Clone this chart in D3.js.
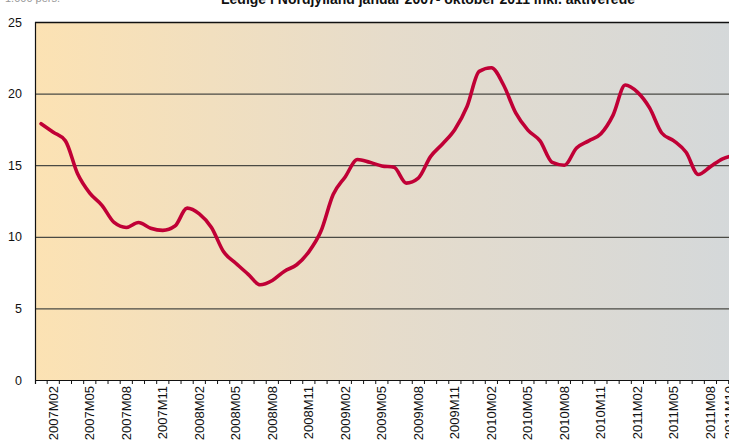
<!DOCTYPE html>
<meta charset="utf-8">
<script src="https://d3js.org/d3.v7.min.js"></script>
<style>
  body { margin: 0; background: #fff; }
  text { font-family: "Liberation Sans", Arial, sans-serif; }
</style>
<div id="chart"></div>
<script>
  // months jan 2007 - okt 2011
  var years = ["2007", "2008", "2009", "2010", "2011"];
  var months = [];
  years.forEach(function (y) {
    for (var m = 1; m <= 12; m++) {
      if (y == "2011" && m > 10) break;
      months.push(y + "M" + (m < 10 ? "0" + m : m));
    }
  });

  // ledige inkl. aktiverede
  var values = [
    17.9, 17.3, 16.7, 14.4, 13.05, 12.2, 11.0, 10.65, 11.0, 10.6, 10.45, 10.75,
    12.0, 11.6, 10.65, 8.95, 8.15, 7.4, 6.65, 6.95, 7.6, 8.05, 8.95, 10.4,
    12.95, 14.2, 15.4, 15.2, 14.95, 14.85, 13.75, 14.1, 15.6, 16.5, 17.5, 19.1,
    21.55, 21.8, 20.6, 18.65, 17.45, 16.7, 15.2, 15.0, 16.2, 16.7, 17.2, 18.5,
    20.6, 20.1, 19.0, 17.25, 16.7, 15.9, 14.35, 14.9, 15.45, 15.7
  ];
  var yTicks = [0, 5, 10, 15, 20, 25];

  var margin = { top: 22, left: 35 },
      step = 12.17,
      width = step * months.length,
      height = 358;

  var svg = d3.select("#chart")
    .append("svg")
    .attr("width", 729)
    .attr("height", 444);

  var grad = svg.append("defs").append("linearGradient")
    .attr("id", "bg")
    .attr("x1", "0%").attr("x2", "100%")
    .attr("y1", "0%").attr("y2", "0%");
  grad.append("stop").attr("offset", "0%").attr("stop-color", "#fce2b3");
  grad.append("stop").attr("offset", "50%").attr("stop-color", "#e6dccb");
  grad.append("stop").attr("offset", "100%").attr("stop-color", "#d4d8da");

  var g = svg.append("g")
    .attr("transform", "translate(" + margin.left + "," + margin.top + ")");

  var x = d3.scaleBand()
    .domain(months)
    .range([0, width]);

  var y = d3.scaleLinear()
    .domain([0, 25])
    .range([height, 0]);

  g.append("rect")
    .attr("width", width)
    .attr("height", height)
    .attr("fill", "url(#bg)");

  // gridlines
  g.selectAll(".grid")
    .data(yTicks)
    .enter()
    .append("line")
    .attr("x1", 0)
    .attr("x2", width)
    .attr("y1", function (d) { return y(d) + 0.5; })
    .attr("y2", function (d) { return y(d) + 0.5; })
    .attr("stroke", function (d) { return d == 25 || d == 0 ? "#111" : "#4a4a44"; })
    .attr("stroke-width", function (d) { return d == 25 ? 1.6 : 1.2; });

  g.append("line")
    .attr("x1", 0.5).attr("x2", 0.5)
    .attr("y1", 0).attr("y2", height + 4)
    .attr("stroke", "#111")
    .attr("stroke-width", 1.2);

  // y labels
  g.selectAll(".ylab")
    .data(yTicks)
    .enter()
    .append("text")
    .attr("x", -13)
    .attr("y", function (d) { return y(d) + 4.5; })
    .attr("text-anchor", "end")
    .attr("font-size", "12.5px")
    .attr("fill", "#111")
    .text(function (d) { return d; });

  // month ticks
  g.selectAll(".tick")
    .data(months)
    .enter()
    .append("line")
    .attr("x1", function (d) { return x(d) + step; })
    .attr("x2", function (d) { return x(d) + step; })
    .attr("y1", height)
    .attr("y2", height + 4)
    .attr("stroke", "#111")
    .attr("stroke-width", 1);

  // x labels every third month, plus the last one
  var labelled = months.filter(function (d, i) { return (i - 1) % 3 == 0 || i == months.length - 1; });
  g.selectAll(".xlab")
    .data(labelled)
    .enter()
    .append("text")
    .attr("transform", function (d) {
      var px = Math.min(x(d) + step / 2 + 4.5, 729 - margin.left + 5);
      return "translate(" + px + "," + (height + 6) + ") rotate(-90)";
    })
    .attr("text-anchor", "end")
    .attr("font-size", "13px")
    .attr("fill", "#111")
    .text(function (d) { return d; });

  // the line
  var data = months.map(function (m, i) { return { m: m, v: values[i] }; });
  g.append("path")
    .datum(data)
    .attr("fill", "none")
    .attr("stroke", "#c00036")
    .attr("stroke-width", 3.6)
    .attr("stroke-linejoin", "round")
    .attr("stroke-linecap", "round")
    .attr("d", d3.line()
      .curve(d3.curveMonotoneX)
      .x(function (d) { return x(d.m) + step / 2; })
      .y(function (d) { return y(d.v); }));

  // title (cut off at top in the original)
  svg.append("text")
    .attr("x", 428)
    .attr("y", 4)
    .attr("text-anchor", "middle")
    .attr("font-size", "14px")
    .attr("font-weight", "bold")
    .attr("fill", "#111")
    .text("Ledige i Nordjylland januar 2007- oktober 2011 inkl. aktiverede");

  svg.append("text")
    .attr("x", 5)
    .attr("y", 2)
    .attr("font-size", "11px")
    .attr("fill", "#999")
    .text("1.000 pers.");
</script>
